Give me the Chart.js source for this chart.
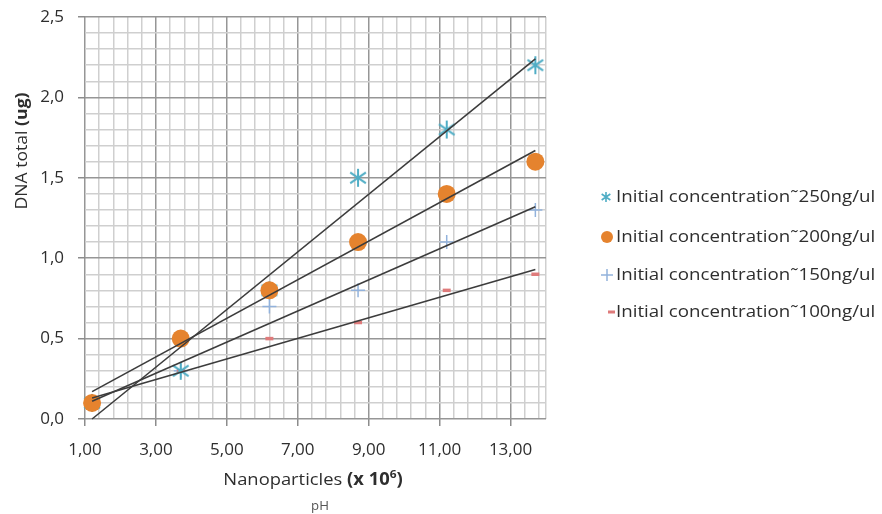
<!DOCTYPE html>
<html lang="en">
<head>
    <meta charset="UTF-8">
    <title>DNA total vs Nanoparticles</title>
    <script src="https://cdn.jsdelivr.net/npm/chart.js"></script>
    <style>
        body { margin: 0; background: #fff; }
        #wrap { width: 882px; height: 514px; position: relative; }
    </style>
</head>
<body>
<div id="wrap"><canvas id="dnaChart"></canvas></div>

<script>
    // x positions of the measurements (nanoparticles x 10^6)
    const xValues = [1.2, 3.7, 6.2, 8.7, 11.2, 13.7];

    // DNA total (ug) per initial concentration
    const conc250 = [0.1, 0.3, 0.8, 1.5, 1.8, 2.2];
    const conc200 = [0.1, 0.5, 0.8, 1.1, 1.4, 1.6];
    const conc150 = [0.1, 0.3, 0.7, 0.8, 1.1, 1.3];
    const conc100 = [0.1, 0.3, 0.5, 0.6, 0.8, 0.9];

    // trendline end points
    const trendX = [1.2, 13.7];
    const trend250 = [0.0, 2.24];
    const trend200 = [0.17, 1.67];
    const trend150 = [0.11, 1.32];
    const trend100 = [0.13, 0.93];

    // tick labels
    const xTickLabels = [1, 3, 5, 7, 9, 11, 13];
    const yTickLabels = [0, 0.5, 1.0, 1.5, 2.0, 2.5];

    const seriesNames = [
        'Initial concentration\u02dc250ng/ul',
        'Initial concentration\u02dc200ng/ul',
        'Initial concentration\u02dc150ng/ul',
        'Initial concentration\u02dc100ng/ul'
    ];

    const TEAL = '#4fadc5';
    const ORANGE = '#e5832e';
    const BLUE = '#92b2dc';
    const RED = '#df7b7b';
    const TEXT = '#2e2e2e';
    const FONT = '"Open Sans", "DejaVu Sans", sans-serif';

    // asterisk marker (vertical + two diagonals) like the spreadsheet one
    function makeAsterisk(size, width) {
        const c = document.createElement('canvas');
        c.width = size; c.height = size;
        const g = c.getContext('2d');
        const m = size / 2, r = size / 2 - 1;
        g.strokeStyle = TEAL;
        g.lineWidth = width;
        g.beginPath();
        g.moveTo(m, m - r); g.lineTo(m, m + r);
        g.moveTo(m - r * 0.87, m - r * 0.6); g.lineTo(m + r * 0.87, m + r * 0.6);
        g.moveTo(m - r * 0.87, m + r * 0.6); g.lineTo(m + r * 0.87, m - r * 0.6);
        g.stroke();
        return c;
    }
    const asteriskBig = makeAsterisk(20, 2);
    const asteriskSmall = makeAsterisk(12, 1.6);

    function pts(xs, ys) {
        return xs.map((x, i) => ({ x: x, y: ys[i] }));
    }

    function isMajorX(v) {
        return xTickLabels.some(t => Math.abs(t - v) < 1e-6);
    }
    function isMajorY(v) {
        return yTickLabels.some(t => Math.abs(t - v) < 1e-6);
    }

    // mixed-font text, stretched a little sideways like the original
    function drawRich(ctx, parts, cx, cy, sx, align) {
        let total = 0;
        parts.forEach(p => { ctx.font = p.f; total += ctx.measureText(p.t).width; });
        ctx.save();
        ctx.translate(cx, cy);
        ctx.scale(sx, 1);
        let x = align === 'left' ? 0 : -total / 2;
        ctx.textAlign = 'left';
        parts.forEach(p => {
            ctx.font = p.f;
            ctx.fillText(p.t, x, p.dy || 0);
            x += ctx.measureText(p.t).width;
        });
        ctx.restore();
    }

    // draws legend and axis titles
    const textPlugin = {
        id: 'texts',
        afterDraw(chart) {
            const ctx = chart.ctx;
            ctx.save();
            ctx.fillStyle = TEXT;
            ctx.textBaseline = 'middle';

            // legend
            const rows = [197, 237, 275, 312];
            rows.forEach((y, i) => {
                const mx = 606;
                if (i === 0) {
                    ctx.drawImage(asteriskSmall, mx - 6, y - 6);
                } else if (i === 1) {
                    ctx.fillStyle = ORANGE;
                    ctx.beginPath();
                    ctx.arc(mx + 1, y, 6, 0, Math.PI * 2);
                    ctx.fill();
                } else if (i === 2) {
                    ctx.strokeStyle = BLUE;
                    ctx.lineWidth = 1.5;
                    ctx.beginPath();
                    ctx.moveTo(mx - 5, y); ctx.lineTo(mx + 7, y);
                    ctx.moveTo(mx + 1, y - 6); ctx.lineTo(mx + 1, y + 6);
                    ctx.stroke();
                } else {
                    ctx.strokeStyle = RED;
                    ctx.lineWidth = 3;
                    ctx.beginPath();
                    ctx.moveTo(mx + 2, y); ctx.lineTo(mx + 9, y);
                    ctx.stroke();
                }
                ctx.fillStyle = TEXT;
                drawRich(ctx, [{ t: seriesNames[i], f: '17px ' + FONT }], 616, y, 1.1, 'left');
            });

            // x axis title: "Nanoparticles (x 10^6)"
            drawRich(ctx, [
                { t: 'Nanoparticles ', f: '17px ' + FONT },
                { t: '(x 10', f: 'bold 17px ' + FONT },
                { t: '6', f: 'bold 11px ' + FONT, dy: -5 },
                { t: ')', f: 'bold 17px ' + FONT }
            ], 313, 480, 1.08);

            // small "pH" line
            ctx.fillStyle = '#555555';
            drawRich(ctx, [{ t: 'pH', f: '12px ' + FONT }], 320, 507, 1.1);

            // y axis title: "DNA total (ug)"
            ctx.fillStyle = TEXT;
            ctx.translate(22, 151);
            ctx.rotate(-Math.PI / 2);
            drawRich(ctx, [
                { t: 'DNA total ', f: '16px ' + FONT },
                { t: '(ug)', f: 'bold 16px ' + FONT }
            ], 0, 0, 1.1);
            ctx.restore();
        }
    };

    const trendStyle = {
        showLine: true,
        borderColor: '#3c3c3c',
        borderWidth: 1.6,
        pointRadius: 0,
        fill: false,
        order: 0,
        clip: false
    };

    const ctx = document.getElementById('dnaChart').getContext('2d');
    const dnaChart = new Chart(ctx, {
        type: 'scatter',
        data: {
            datasets: [
                Object.assign({ label: 'trend 250', data: pts(trendX, trend250) }, trendStyle),
                Object.assign({ label: 'trend 200', data: pts(trendX, trend200) }, trendStyle),
                Object.assign({ label: 'trend 150', data: pts(trendX, trend150) }, trendStyle),
                Object.assign({ label: 'trend 100', data: pts(trendX, trend100) }, trendStyle),
                {
                    label: seriesNames[1],
                    data: pts(xValues, conc200),
                    pointStyle: 'circle',
                    pointRadius: 9,
                    backgroundColor: ORANGE,
                    borderColor: ORANGE,
                    borderWidth: 0,
                    order: 1,
                    clip: false
                },
                {
                    label: seriesNames[0],
                    data: pts(xValues, conc250),
                    pointStyle: asteriskBig,
                    pointRadius: 10,
                    order: 2,
                    clip: false
                },
                {
                    label: seriesNames[2],
                    data: pts(xValues, conc150),
                    pointStyle: 'cross',
                    pointRadius: 7,
                    borderColor: BLUE,
                    borderWidth: 1.5,
                    order: 3,
                    clip: false
                },
                {
                    label: seriesNames[3],
                    data: pts(xValues, conc100),
                    pointStyle: 'line',
                    pointRadius: 4,
                    borderColor: RED,
                    borderWidth: 3.5,
                    order: 2,
                    clip: false
                }
            ]
        },
        options: {
            responsive: true,
            maintainAspectRatio: false,
            animation: false,
            layout: {
                padding: { top: 17, right: 336, left: 0, bottom: 0 }
            },
            plugins: {
                legend: { display: false },
                tooltip: { enabled: false }
            },
            scales: {
                x: {
                    type: 'linear',
                    min: 1,
                    max: 14,
                    afterFit: s => { s.height = 95; s.paddingLeft = 0; s.paddingRight = 0; },
                    afterBuildTicks: s => {
                        const ticks = [];
                        for (let i = 0; i <= 32; i++) {
                            ticks.push({ value: Math.round((1 + i * 0.4) * 10) / 10 });
                        }
                        ticks.push({ value: 14 });
                        s.ticks = ticks;
                    },
                    border: { display: false },
                    grid: {
                        color: c => isMajorX(c.tick.value) ? '#969696' : '#cfcfcf',
                        lineWidth: 1.5,
                        tickLength: 7,
                        tickColor: c => isMajorX(c.tick.value) ? '#8c8c8c' : 'rgba(0,0,0,0)'
                    },
                    ticks: {
                        autoSkip: false,
                        maxRotation: 0,
                        padding: 14,
                        color: TEXT,
                        font: { size: 17, family: FONT },
                        callback: v => isMajorX(v) ? v.toFixed(2).replace('.', ',') : ''
                    }
                },
                y: {
                    type: 'linear',
                    min: 0,
                    max: 2.5,
                    afterFit: s => { s.width = 85; s.paddingTop = 0; s.paddingBottom = 0; },
                    afterBuildTicks: s => {
                        const ticks = [];
                        for (let i = 0; i <= 25; i++) {
                            ticks.push({ value: Math.round(i) / 10 });
                        }
                        s.ticks = ticks;
                    },
                    border: { display: false },
                    grid: {
                        color: c => isMajorY(c.tick.value) ? '#969696' : '#cfcfcf',
                        lineWidth: 1.5,
                        tickLength: 7,
                        tickColor: c => isMajorY(c.tick.value) ? '#8c8c8c' : 'rgba(0,0,0,0)'
                    },
                    ticks: {
                        autoSkip: false,
                        padding: 14,
                        color: TEXT,
                        font: { size: 17, family: FONT },
                        callback: v => isMajorY(v) ? v.toFixed(1).replace('.', ',') : ''
                    }
                }
            }
        },
        plugins: [textPlugin]
    });
</script>
</body>
</html>
